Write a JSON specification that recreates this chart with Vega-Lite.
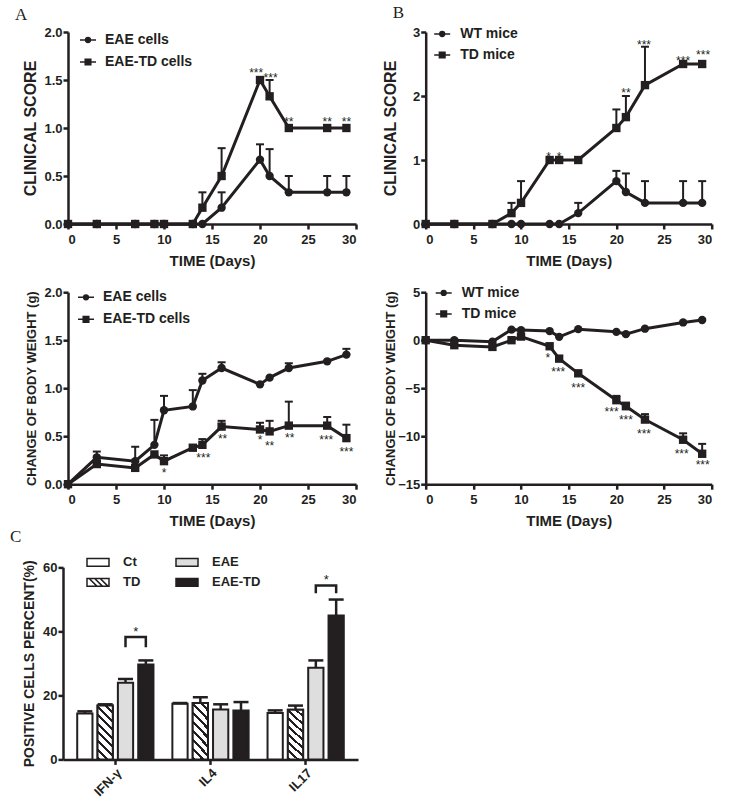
{
"$schema":"https://vega.github.io/schema/vega-lite/v6.json",
"background":"white",
"padding":{"left":10,"top":3,"right":5,"bottom":5},
"columns":2,
"bounds":"flush",
"align":"each",
"spacing":{"row":68.2,"column":67.7},
"resolve":{"scale":{"shape":"independent","fill":"independent"},"legend":{"shape":"independent","fill":"independent"}},
"config":{
 "font":"Liberation Sans",
 "view":{"stroke":null},
 "axis":{"domainColor":"#231f20","domainWidth":2.5,"tickColor":"#231f20","tickWidth":2.5,"tickSize":5,"labelFont":"Liberation Sans","labelFontWeight":"bold","labelFontSize":13,"labelColor":"#231f20","labelPadding":1,"titleFont":"Liberation Sans","titleFontWeight":"bold","titleFontSize":15,"titleColor":"#231f20","grid":false},
 "axisX":{"labelPadding":4},
 "title":{"font":"Liberation Serif","fontSize":17,"fontWeight":"normal","anchor":"start","frame":"group","color":"#231f20","offset":2},
 "legend":{"labelFont":"Liberation Sans","labelFontWeight":"bold","labelColor":"#231f20","padding":0,"symbolOpacity":1}
},
"datasets":{
 "a1":[
  {"day":0,"g":"EAE cells","v":0},{"day":3,"g":"EAE cells","v":0},{"day":7,"g":"EAE cells","v":0},{"day":9,"g":"EAE cells","v":0},{"day":10,"g":"EAE cells","v":0},{"day":13,"g":"EAE cells","v":0},{"day":14,"g":"EAE cells","v":0},{"day":16,"g":"EAE cells","v":0.17,"e":0.33},{"day":20,"g":"EAE cells","v":0.67,"e":0.83},{"day":21,"g":"EAE cells","v":0.5,"e":0.78},{"day":23,"g":"EAE cells","v":0.33,"e":0.5},{"day":27,"g":"EAE cells","v":0.33,"e":0.5},{"day":29,"g":"EAE cells","v":0.33,"e":0.5},
  {"day":0,"g":"EAE-TD cells","v":0},{"day":3,"g":"EAE-TD cells","v":0},{"day":7,"g":"EAE-TD cells","v":0},{"day":9,"g":"EAE-TD cells","v":0},{"day":10,"g":"EAE-TD cells","v":0},{"day":13,"g":"EAE-TD cells","v":0},{"day":14,"g":"EAE-TD cells","v":0.17,"e":0.33},{"day":16,"g":"EAE-TD cells","v":0.5,"e":0.79},{"day":20,"g":"EAE-TD cells","v":1.5},{"day":21,"g":"EAE-TD cells","v":1.33,"e":1.5},{"day":23,"g":"EAE-TD cells","v":1.0},{"day":27,"g":"EAE-TD cells","v":1.0},{"day":29,"g":"EAE-TD cells","v":1.0}
 ],
 "a1s":[{"day":19.6,"v":1.6,"t":"***"},{"day":21.1,"v":1.55,"t":"***"},{"day":23.0,"v":1.09,"t":"**"},{"day":27.0,"v":1.09,"t":"**"},{"day":29.0,"v":1.09,"t":"**"}],
 "b1":[
  {"day":0,"g":"WT mice","v":0},{"day":3,"g":"WT mice","v":0},{"day":7,"g":"WT mice","v":0},{"day":9,"g":"WT mice","v":0},{"day":10,"g":"WT mice","v":0},{"day":13,"g":"WT mice","v":0},{"day":14,"g":"WT mice","v":0},{"day":16,"g":"WT mice","v":0.17,"e":0.33},{"day":20,"g":"WT mice","v":0.67,"e":0.83},{"day":21,"g":"WT mice","v":0.5,"e":0.79},{"day":23,"g":"WT mice","v":0.33,"e":0.67},{"day":27,"g":"WT mice","v":0.33,"e":0.67},{"day":29,"g":"WT mice","v":0.33,"e":0.67},
  {"day":0,"g":"TD mice","v":0},{"day":3,"g":"TD mice","v":0},{"day":7,"g":"TD mice","v":0},{"day":9,"g":"TD mice","v":0.17,"e":0.33},{"day":10,"g":"TD mice","v":0.33,"e":0.67},{"day":13,"g":"TD mice","v":1.0},{"day":14,"g":"TD mice","v":1.0},{"day":16,"g":"TD mice","v":1.0},{"day":20,"g":"TD mice","v":1.5,"e":1.79},{"day":21,"g":"TD mice","v":1.67,"e":2.0},{"day":23,"g":"TD mice","v":2.17,"e":2.77},{"day":27,"g":"TD mice","v":2.5},{"day":29,"g":"TD mice","v":2.5}
 ],
 "b1s":[{"day":12.9,"v":1.1,"t":"*"},{"day":14.0,"v":1.1,"t":"*"},{"day":21.0,"v":2.1,"t":"**"},{"day":22.9,"v":2.84,"t":"***"},{"day":27.0,"v":2.6,"t":"***"},{"day":29.1,"v":2.69,"t":"***"}],
 "a2":[
  {"day":0,"g":"EAE cells","v":0},{"day":3,"g":"EAE cells","v":0.28,"e":0.34},{"day":7,"g":"EAE cells","v":0.24,"e":0.39},{"day":9,"g":"EAE cells","v":0.41,"e":0.67},{"day":10,"g":"EAE cells","v":0.77,"e":0.92},{"day":13,"g":"EAE cells","v":0.81,"e":0.98},{"day":14,"g":"EAE cells","v":1.08,"e":1.15},{"day":16,"g":"EAE cells","v":1.21,"e":1.27},{"day":20,"g":"EAE cells","v":1.04},{"day":21,"g":"EAE cells","v":1.11},{"day":23,"g":"EAE cells","v":1.21,"e":1.26},{"day":27,"g":"EAE cells","v":1.28},{"day":29,"g":"EAE cells","v":1.35,"e":1.41},
  {"day":0,"g":"EAE-TD cells","v":0},{"day":3,"g":"EAE-TD cells","v":0.21,"e":0.25},{"day":7,"g":"EAE-TD cells","v":0.17},{"day":9,"g":"EAE-TD cells","v":0.31},{"day":10,"g":"EAE-TD cells","v":0.24,"e":0.3},{"day":13,"g":"EAE-TD cells","v":0.38},{"day":14,"g":"EAE-TD cells","v":0.41,"e":0.47},{"day":16,"g":"EAE-TD cells","v":0.6,"e":0.66},{"day":20,"g":"EAE-TD cells","v":0.57,"e":0.64},{"day":21,"g":"EAE-TD cells","v":0.55,"e":0.66},{"day":23,"g":"EAE-TD cells","v":0.61,"e":0.86},{"day":27,"g":"EAE-TD cells","v":0.61,"e":0.7},{"day":29,"g":"EAE-TD cells","v":0.48,"e":0.62}
 ],
 "a2s":[{"day":10.0,"v":0.15,"t":"*"},{"day":14.1,"v":0.3,"t":"***"},{"day":16.1,"v":0.5,"t":"**"},{"day":20.0,"v":0.49,"t":"*"},{"day":21.0,"v":0.43,"t":"**"},{"day":23.1,"v":0.51,"t":"**"},{"day":26.9,"v":0.49,"t":"***"},{"day":29.0,"v":0.37,"t":"***"}],
 "b2":[
  {"day":0,"g":"WT mice","v":0},{"day":3,"g":"WT mice","v":0},{"day":7,"g":"WT mice","v":-0.15},{"day":9,"g":"WT mice","v":1.1},{"day":10,"g":"WT mice","v":1.05},{"day":13,"g":"WT mice","v":0.95},{"day":14,"g":"WT mice","v":0.35},{"day":16,"g":"WT mice","v":1.15},{"day":20,"g":"WT mice","v":0.87},{"day":21,"g":"WT mice","v":0.63},{"day":23,"g":"WT mice","v":1.2},{"day":27,"g":"WT mice","v":1.85},{"day":29,"g":"WT mice","v":2.1},
  {"day":0,"g":"TD mice","v":0},{"day":3,"g":"TD mice","v":-0.52},{"day":7,"g":"TD mice","v":-0.7},{"day":9,"g":"TD mice","v":0},{"day":10,"g":"TD mice","v":0.38},{"day":13,"g":"TD mice","v":-0.63},{"day":14,"g":"TD mice","v":-1.92},{"day":16,"g":"TD mice","v":-3.45},{"day":20,"g":"TD mice","v":-6.25,"e":-5.8},{"day":21,"g":"TD mice","v":-6.88,"e":-6.5},{"day":23,"g":"TD mice","v":-8.27,"e":-7.7},{"day":27,"g":"TD mice","v":-10.37,"e":-9.7},{"day":29,"g":"TD mice","v":-11.83,"e":-10.8}
 ],
 "b2s":[{"day":12.8,"v":-1.54,"t":"*"},{"day":13.9,"v":-3.04,"t":"***"},{"day":16.0,"v":-4.71,"t":"***"},{"day":19.5,"v":-7.12,"t":"***"},{"day":21.0,"v":-8.03,"t":"***"},{"day":22.9,"v":-9.49,"t":"***"},{"day":26.85,"v":-11.49,"t":"***"},{"day":29.05,"v":-12.7,"t":"***"}],
 "cyto":[
  {"c":"IFN-γ","g":"Ct","v":14.3,"e":15.0},{"c":"IFN-γ","g":"TD","v":16.8,"e":17.2},{"c":"IFN-γ","g":"EAE","v":23.9,"e":25.1},{"c":"IFN-γ","g":"EAE-TD","v":29.6,"e":30.9},
  {"c":"IL4","g":"Ct","v":17.4,"e":17.6},{"c":"IL4","g":"TD","v":17.6,"e":19.4},{"c":"IL4","g":"EAE","v":15.6,"e":17.2},{"c":"IL4","g":"EAE-TD","v":15.3,"e":17.9},
  {"c":"IL17","g":"Ct","v":14.5,"e":15.3},{"c":"IL17","g":"TD","v":15.5,"e":16.8},{"c":"IL17","g":"EAE","v":28.6,"e":30.9},{"c":"IL17","g":"EAE-TD","v":44.9,"e":49.9}
 ],
 "brk":[
  {"c":"IFN-γ","g":"EAE","v":35.0,"o":1},{"c":"IFN-γ","g":"EAE","v":38.2,"o":2},{"c":"IFN-γ","g":"EAE-TD","v":38.2,"o":3},{"c":"IFN-γ","g":"EAE-TD","v":35.0,"o":4},
  {"c":"IL17","g":"EAE","v":51.9,"o":1},{"c":"IL17","g":"EAE","v":54.3,"o":2},{"c":"IL17","g":"EAE-TD","v":54.3,"o":3},{"c":"IL17","g":"EAE-TD","v":51.9,"o":4}
 ],
 "cs":[{"c":"IFN-γ","g":"EAE-TD","v":40.8,"t":"*"},{"c":"IL17","g":"EAE-TD","v":56.9,"t":"*"}]
},
"concat":[
 {
  "width":288,"height":192,
  "title":{"text":"A","dx":-53},
  "encoding":{
   "x":{"field":"day","type":"quantitative","scale":{"domain":[0,30],"nice":false},"axis":{"values":[0,5,10,15,20,25,30],"title":"TIME (Days)","titlePadding":7}},
   "y":{"field":"v","type":"quantitative","scale":{"domain":[0,2],"nice":false},"axis":{"values":[0,0.5,1,1.5,2],"format":".1f","title":"CLINICAL SCORE","titleFontSize":16,"titlePadding":5}}
  },
  "layer":[
   {"data":{"name":"a1"},"transform":[{"filter":"isValid(datum.e)"}],"mark":{"type":"rule","strokeWidth":2,"color":"#231f20"},"encoding":{"y2":{"field":"e"}}},
   {"data":{"name":"a1"},"transform":[{"filter":"isValid(datum.e)"}],"mark":{"type":"tick","orient":"horizontal","size":8,"thickness":2,"color":"#231f20","opacity":1},"encoding":{"y":{"field":"e","type":"quantitative","title":"CLINICAL SCORE"}}},
   {"data":{"name":"a1"},"mark":{"type":"line","strokeWidth":3,"color":"#231f20"},"encoding":{"detail":{"field":"g"}}},
   {"data":{"name":"a1"},"mark":{"type":"point","filled":true,"opacity":1,"color":"#231f20","size":70},"encoding":{"shape":{"condition":{"test":"datum.g === 'EAE cells'","value":"circle"},"value":"square"}}},
   {"data":{"name":"a1"},"mark":{"type":"point","filled":true,"opacity":0,"color":"#231f20","stroke":"#231f20","strokeWidth":2.5},"encoding":{"shape":{"field":"g","type":"nominal","scale":{"domain":["EAE cells","EAE-TD cells"],"range":["M-1,0H1M-0.3,0A0.3,0.3,0,1,1,0.3,0A0.3,0.3,0,1,1,-0.3,0","M-1,0H1M-0.35,-0.35H0.35V0.35H-0.35Z"]},"legend":{"title":null,"orient":"none","legendX":11,"legendY":-3,"labelFontSize":14,"labelOffset":8,"rowPadding":0,"clipHeight":22,"symbolSize":256,"symbolOpacity":1}}}},
   {"data":{"name":"a1s"},"mark":{"type":"text","font":"Liberation Sans","fontSize":12,"baseline":"middle","dy":3,"color":"#231f20"},"encoding":{"text":{"field":"t"}}}
  ]
 },
 {
  "width":286,"height":192,
  "title":{"text":"B","dx":-33},
  "encoding":{
   "x":{"field":"day","type":"quantitative","scale":{"domain":[0,30],"nice":false},"axis":{"values":[0,5,10,15,20,25,30],"title":"TIME (Days)","titlePadding":7}},
   "y":{"field":"v","type":"quantitative","scale":{"domain":[0,3],"nice":false},"axis":{"values":[0,1,2,3],"title":"CLINICAL SCORE","titleFontSize":16,"titlePadding":14}}
  },
  "layer":[
   {"data":{"name":"b1"},"transform":[{"filter":"isValid(datum.e)"}],"mark":{"type":"rule","strokeWidth":2,"color":"#231f20"},"encoding":{"y2":{"field":"e"}}},
   {"data":{"name":"b1"},"transform":[{"filter":"isValid(datum.e)"}],"mark":{"type":"tick","orient":"horizontal","size":8,"thickness":2,"color":"#231f20","opacity":1},"encoding":{"y":{"field":"e","type":"quantitative","title":"CLINICAL SCORE"}}},
   {"data":{"name":"b1"},"mark":{"type":"line","strokeWidth":3,"color":"#231f20"},"encoding":{"detail":{"field":"g"}}},
   {"data":{"name":"b1"},"mark":{"type":"point","filled":true,"opacity":1,"color":"#231f20","size":70},"encoding":{"shape":{"condition":{"test":"datum.g === 'WT mice'","value":"circle"},"value":"square"}}},
   {"data":{"name":"b1"},"mark":{"type":"point","filled":true,"opacity":0,"color":"#231f20","stroke":"#231f20","strokeWidth":2.5},"encoding":{"shape":{"field":"g","type":"nominal","scale":{"domain":["WT mice","TD mice"],"range":["M-1,0H1M-0.3,0A0.3,0.3,0,1,1,0.3,0A0.3,0.3,0,1,1,-0.3,0","M-1,0H1M-0.35,-0.35H0.35V0.35H-0.35Z"]},"legend":{"title":null,"orient":"none","legendX":7.5,"legendY":-8.5,"labelFontSize":14,"labelOffset":9,"rowPadding":0,"clipHeight":21,"symbolSize":256,"symbolOpacity":1}}}},
   {"data":{"name":"b1s"},"mark":{"type":"text","font":"Liberation Sans","fontSize":12,"baseline":"middle","dy":3,"color":"#231f20"},"encoding":{"text":{"field":"t"}}}
  ]
 },
 {
  "width":288,"height":192,
  "encoding":{
   "x":{"field":"day","type":"quantitative","scale":{"domain":[0,30],"nice":false},"axis":{"values":[0,5,10,15,20,25,30],"title":"TIME (Days)","titlePadding":7}},
   "y":{"field":"v","type":"quantitative","scale":{"domain":[0,2],"nice":false},"axis":{"values":[0,0.5,1,1.5,2],"format":".1f","title":"CHANGE OF BODY WEIGHT (g)","titleFontSize":13,"titlePadding":5}}
  },
  "layer":[
   {"data":{"name":"a2"},"transform":[{"filter":"isValid(datum.e)"}],"mark":{"type":"rule","strokeWidth":2,"color":"#231f20"},"encoding":{"y2":{"field":"e"}}},
   {"data":{"name":"a2"},"transform":[{"filter":"isValid(datum.e)"}],"mark":{"type":"tick","orient":"horizontal","size":8,"thickness":2,"color":"#231f20","opacity":1},"encoding":{"y":{"field":"e","type":"quantitative","title":"CHANGE OF BODY WEIGHT (g)"}}},
   {"data":{"name":"a2"},"mark":{"type":"line","strokeWidth":3,"color":"#231f20"},"encoding":{"detail":{"field":"g"}}},
   {"data":{"name":"a2"},"mark":{"type":"point","filled":true,"opacity":1,"color":"#231f20","size":70},"encoding":{"shape":{"condition":{"test":"datum.g === 'EAE cells'","value":"circle"},"value":"square"}}},
   {"data":{"name":"a2"},"mark":{"type":"point","filled":true,"opacity":0,"color":"#231f20","stroke":"#231f20","strokeWidth":2.5},"encoding":{"shape":{"field":"g","type":"nominal","scale":{"domain":["EAE cells","EAE-TD cells"],"range":["M-1,0H1M-0.3,0A0.3,0.3,0,1,1,0.3,0A0.3,0.3,0,1,1,-0.3,0","M-1,0H1M-0.35,-0.35H0.35V0.35H-0.35Z"]},"legend":{"title":null,"orient":"none","legendX":9,"legendY":-5.7,"labelFontSize":14,"labelOffset":8,"rowPadding":0,"clipHeight":21.7,"symbolSize":256,"symbolOpacity":1}}}},
   {"data":{"name":"a2s"},"mark":{"type":"text","font":"Liberation Sans","fontSize":12,"baseline":"middle","dy":3,"color":"#231f20"},"encoding":{"text":{"field":"t"}}}
  ]
 },
 {
  "width":286,"height":192,
  "encoding":{
   "x":{"field":"day","type":"quantitative","scale":{"domain":[0,30],"nice":false},"axis":{"values":[0,5,10,15,20,25,30],"title":"TIME (Days)","titlePadding":7}},
   "y":{"field":"v","type":"quantitative","scale":{"domain":[-15,5],"nice":false},"axis":{"values":[-15,-10,-5,0,5],"title":"CHANGE OF BODY WEIGHT (g)","titleFontSize":13,"titlePadding":0}}
  },
  "layer":[
   {"data":{"name":"b2"},"transform":[{"filter":"isValid(datum.e)"}],"mark":{"type":"rule","strokeWidth":2,"color":"#231f20"},"encoding":{"y2":{"field":"e"}}},
   {"data":{"name":"b2"},"transform":[{"filter":"isValid(datum.e)"}],"mark":{"type":"tick","orient":"horizontal","size":8,"thickness":2,"color":"#231f20","opacity":1},"encoding":{"y":{"field":"e","type":"quantitative","title":"CHANGE OF BODY WEIGHT (g)"}}},
   {"data":{"name":"b2"},"mark":{"type":"line","strokeWidth":3,"color":"#231f20"},"encoding":{"detail":{"field":"g"}}},
   {"data":{"name":"b2"},"mark":{"type":"point","filled":true,"opacity":1,"color":"#231f20","size":70},"encoding":{"shape":{"condition":{"test":"datum.g === 'WT mice'","value":"circle"},"value":"square"}}},
   {"data":{"name":"b2"},"mark":{"type":"point","filled":true,"opacity":0,"color":"#231f20","stroke":"#231f20","strokeWidth":2.5},"encoding":{"shape":{"field":"g","type":"nominal","scale":{"domain":["WT mice","TD mice"],"range":["M-1,0H1M-0.3,0A0.3,0.3,0,1,1,0.3,0A0.3,0.3,0,1,1,-0.3,0","M-1,0H1M-0.35,-0.35H0.35V0.35H-0.35Z"]},"legend":{"title":null,"orient":"none","legendX":9,"legendY":-9.8,"labelFontSize":14,"labelOffset":9,"rowPadding":0,"clipHeight":21,"symbolSize":256,"symbolOpacity":1}}}},
   {"data":{"name":"b2s"},"mark":{"type":"text","font":"Liberation Sans","fontSize":12,"baseline":"middle","dy":3,"color":"#231f20"},"encoding":{"text":{"field":"t"}}}
  ]
 },
 {
  "width":290,"height":207,
  "title":{"text":"C","dx":-58,"offset":6},
  "encoding":{
   "x":{"field":"c","type":"nominal","sort":["IFN-γ","IL4","IL17"],"scale":{"range":[-5,290],"paddingInner":0,"paddingOuter":0.05},"axis":{"title":null,"labelAngle":-45,"labelFontSize":13,"labelPadding":2}},
   "y":{"field":"v","type":"quantitative","scale":{"domain":[0,60],"nice":false,"range":[207,14.8]},"axis":{"values":[0,20,40,60],"title":"POSITIVE CELLS PERCENT(%)","titleFontSize":14,"titlePadding":6,"offset":5}},
   "xOffset":{"field":"g","type":"nominal","sort":["Ct","TD","EAE","EAE-TD"],"scale":{"paddingInner":0.25,"paddingOuter":0.465}}
  },
  "layer":[
   {"data":{"name":"cyto"},"mark":{"type":"bar","stroke":"#231f20","strokeWidth":2},"encoding":{
     "fill":{"field":"g","type":"nominal","scale":{"domain":["Ct","TD","EAE","EAE-TD"],"range":["#ffffff","#ffffff","#dedede","#231f20"]},
      "legend":{"title":null,"orient":"none","legendX":18,"legendY":0,"columns":2,"columnPadding":34,"rowPadding":0,"clipHeight":20,"labelFontSize":13,"labelOffset":13,"symbolSize":484,"symbolOpacity":1}}}},
   {"data":{"name":"cyto"},"transform":[{"filter":"datum.g === 'TD'"}],"mark":{"type":"bar","stroke":"#231f20","strokeWidth":2,"fill":{"gradient":"linear","x1":0,"y1":1,"x2":0.336,"y2":-0.188,"stops":[{"offset":0,"color":"#231f20"},{"offset":0.04375,"color":"#231f20"},{"offset":0.04375,"color":"#ffffff"},{"offset":0.125,"color":"#ffffff"},{"offset":0.125,"color":"#231f20"},{"offset":0.16875,"color":"#231f20"},{"offset":0.16875,"color":"#ffffff"},{"offset":0.25,"color":"#ffffff"},{"offset":0.25,"color":"#231f20"},{"offset":0.29375,"color":"#231f20"},{"offset":0.29375,"color":"#ffffff"},{"offset":0.375,"color":"#ffffff"},{"offset":0.375,"color":"#231f20"},{"offset":0.41875,"color":"#231f20"},{"offset":0.41875,"color":"#ffffff"},{"offset":0.5,"color":"#ffffff"},{"offset":0.5,"color":"#231f20"},{"offset":0.54375,"color":"#231f20"},{"offset":0.54375,"color":"#ffffff"},{"offset":0.625,"color":"#ffffff"},{"offset":0.625,"color":"#231f20"},{"offset":0.66875,"color":"#231f20"},{"offset":0.66875,"color":"#ffffff"},{"offset":0.75,"color":"#ffffff"},{"offset":0.75,"color":"#231f20"},{"offset":0.79375,"color":"#231f20"},{"offset":0.79375,"color":"#ffffff"},{"offset":0.875,"color":"#ffffff"},{"offset":0.875,"color":"#231f20"},{"offset":0.91875,"color":"#231f20"},{"offset":0.91875,"color":"#ffffff"},{"offset":1,"color":"#ffffff"}]}},"encoding":{}},
   {"data":{"name":"cyto"},"mark":{"type":"point","filled":true,"opacity":0,"stroke":"#231f20","strokeWidth":2},"encoding":{
     "shape":{"field":"g","type":"nominal","scale":{"domain":["Ct","TD","EAE","EAE-TD"],"range":["M-1,-0.36H1V0.36H-1Z","M-1,-0.36H1V0.36H-1ZM-0.8,-0.36L-0.08,0.36M-0.3,-0.36L0.42,0.36M0.2,-0.36L0.92,0.36","M-1,-0.36H1V0.36H-1Z","M-1,-0.36H1V0.36H-1Z"]},
      "legend":{"title":null,"orient":"none","legendX":18,"legendY":0,"columns":2,"columnPadding":34,"rowPadding":0,"clipHeight":20,"labelFontSize":13,"labelOffset":13,"symbolSize":484,"symbolOpacity":1}},
     "fill":{"field":"g","type":"nominal","scale":{"domain":["Ct","TD","EAE","EAE-TD"],"range":["#ffffff","#ffffff","#dedede","#231f20"]}}}},
   {"data":{"name":"cyto"},"mark":{"type":"rule","strokeWidth":2.5,"color":"#231f20"},"encoding":{"y2":{"field":"e"}}},
   {"data":{"name":"cyto"},"mark":{"type":"tick","orient":"horizontal","size":15,"thickness":2.5,"color":"#231f20","opacity":1},"encoding":{"y":{"field":"e","type":"quantitative","title":"POSITIVE CELLS PERCENT(%)"}}},
   {"data":{"name":"brk"},"mark":{"type":"line","strokeWidth":2.5,"color":"#231f20"},"encoding":{"detail":{"field":"c"},"order":{"field":"o"}}},
   {"data":{"name":"cs"},"mark":{"type":"text","font":"Liberation Sans","fontSize":13,"baseline":"middle","dy":3,"dx":-10,"color":"#231f20"},"encoding":{"text":{"field":"t"}}}
  ]
 }
]
}
